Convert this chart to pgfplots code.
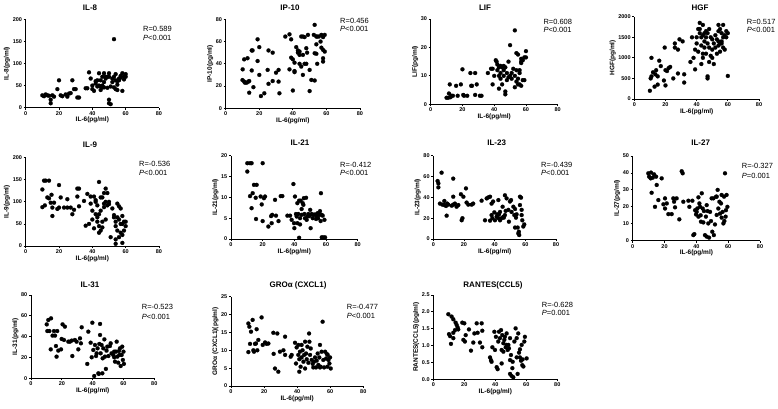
\documentclass[border=0pt]{standalone}
\usepackage{fontspec}
\setmainfont{Liberation Sans}
\usepackage{pgfplots}
\pgfplotsset{compat=1.18}
\pgfplotsset{
  prism/.style={
    scale only axis, axis lines=left,
    axis line style={line width=0.8pt,-},
    every tick/.style={line width=0.8pt,black},
    tick align=outside, major tick length=2pt,
    xmin=0, xmax=80, xtick={0,20,40,60,80},
    /pgf/number format/assume math mode=true,
    /pgf/number format/1000 sep={},
    tick label style={font=\fontsize{5.5}{6}\selectfont\bfseries},
    xticklabel style={inner sep=1.5pt},
    yticklabel style={inner sep=1.5pt},
    label style={font=\fontsize{6.5}{7.5}\selectfont\bfseries},
    xlabel={IL-6(pg/ml)},
    xlabel style={inner sep=1pt, yshift=1pt},
    ylabel style={inner sep=1pt},
    clip=false,
  },
  dot/.style={only marks, mark=*, mark size=2pt, draw=black, fill=black, mark options={solid, fill=black, draw=black, line width=0.2pt}},
}
\newcommand\ttl[3]{\node[font=\fontsize{8}{9}\selectfont\bfseries] at (#1pt,#2pt) {#3};}
\newcommand\rp[5]{%
  \node[anchor=west, inner sep=0pt, font=\fontsize{7.5}{8}\selectfont] at (#1pt,#2pt) {R=#4};
  \node[anchor=west, inner sep=0pt, font=\fontsize{7.5}{8}\selectfont] at (#1pt,#3pt) {\textit{P}#5};}
\begin{document}
\begin{tikzpicture}
\useasboundingbox (0pt,0pt) rectangle (778pt,408pt);
% ---------------- IL-8
\begin{axis}[prism, at={(25.7pt,300.3pt)}, anchor=south west, width=133.3pt, height=88.4pt,
  ymin=0, ymax=200, ytick={0,50,100,150,200}, ylabel={IL-8(pg/ml)}]
\addplot[dot] coordinates {(10,28)(11,26)(12,30)(13,28)(14,27)(15,18)(15,10)(16,28)(17,25)(19,42)(20,62)(21,28)(22,26)(24,30)(25,25)(26,32)(27,33)(28,62)(29,42)(30,42)(31,23)(32,23)(36,44)(38,80)(39,66)(40,42)(40,50)(41,38)(42,60)(42,55)(43,62)(44,78)(44,50)(45,48)(45,62)(46,46)(46,70)(47,78)(47,46)(48,66)(48,70)(49,45)(50,78)(50,18)(50,10)(50,70)(51,8)(51,48)(52,66)(52,58)(53,70)(53,155)(54,76)(54,42)(55,60)(55,40)(55,52)(56,62)(56,66)(57,68)(57,72)(58,38)(58,78)(59,70)(59,64)(60,70)(60,76)(37,44)(43,48)(47,58)(45,40)(49,70)(46,50)(53,46)(54,62)};
\end{axis}
\ttl{90}{400.7}{IL-8}
\rp{143}{378.7}{369.7}{0.589}{<0.001}
% ---------------- IP-10
\begin{axis}[prism, at={(225.7pt,299.7pt)}, anchor=south west, width=134.3pt, height=89pt,
  ymin=0, ymax=80, ytick={0,20,40,60,80}, ylabel={IP-10(pg/ml)}]
\addplot[dot] coordinates {(10.1,35)(10,25.4)(11,24)(11.5,23)(11,44)(13,45)(12.5,23)(13.5,24)(14,24.5)(14,14)(15.5,52)(16,52)(15.5,34)(16.5,19)(19,62)(20,55)(19,42.5)(20,30)(21,11)(23,13.5)(25,34.5)(25.5,22)(25.5,52)(28,50)(28,24.5)(30,32)(31.5,34.5)(31.5,24)(32,13.5)(35.5,64.5)(38,66.5)(39,62)(38,35)(39,45.5)(40,44)(40,16)(41,41)(41,32.5)(41,33.5)(42,55)(43,52)(43,50)(44,51)(44,48)(44,40)(45,64.5)(45,37.5)(46,64.5)(46,48)(46,30)(47,64)(47,40)(48,54)(48,40)(48.5,50)(49,66)(50,15.5)(50,34.5)(51,25.5)(53,25)(52.5,66)(53,75)(53,49.5)(54,64.5)(54,57.5)(54,49)(54.5,64.5)(54.5,40)(55.5,64.5)(56.5,60)(57,66)(57,54.5)(58,52.5)(58,45)(58,42)(58,64)(59,66)(59,51)};
\end{axis}
\ttl{290}{400.7}{IP-10}
\rp{340}{387.3}{378.7}{0.456}{<0.001}
% ---------------- LIF
\begin{axis}[prism, at={(430.7pt,303.7pt)}, anchor=south west, width=127pt, height=85.3pt,
  ymin=0, ymax=30, ytick={0,10,20,30}, ylabel={LIF(pg/ml)}]
\addplot[dot] coordinates {(10,2.3)(11,2.3)(11.5,3.8)(12,7)(12.5,2.5)(13,3)(14,3)(16,6.5)(17,3)(19,7)(20,12.3)(20.5,3.3)(21,3)(23,3)(25,11)(25.5,6.5)(26,6.5)(28,11)(28,3.3)(29,7)(31,3)(32,3)(36,11)(38,12.5)(39,7)(39,12.5)(40,10)(41,15.5)(41.5,15)(42,14)(42,12)(43,13)(43,10)(43,5.5)(44,13.5)(44,11)(44,9)(45,13)(45,7)(46,12)(46,10)(46,13.5)(47,4.5)(47,3.5)(47,13)(48,11)(48,8.5)(49,15)(49,9.5)(50,20.8)(50,10)(51,11)(51,9)(52,12.5)(53,26)(53,6)(53,10)(54,18)(54,12)(54,8)(55,17.5)(55,9)(55,7)(56,11)(56,7)(57,16)(57,14.5)(57,6.5)(58,15.5)(58,8.5)(59,16.5)(59,8.5)(60,18.7)(60,16.5)(56,12)(57,15)};
\end{axis}
\ttl{485}{400.7}{LIF}
\rp{543.3}{386.3}{378}{0.608}{<0.001}
% ---------------- HGF
\begin{axis}[prism, at={(634.3pt,309pt)}, anchor=south west, width=124.7pt, height=82.3pt,
  ymin=0, ymax=2000, ytick={0,500,1000,1500,2000}, ylabel={HGF(pg/ml)}]
\addplot[dot] coordinates {(10,200)(10.5,500)(11,550)(11,1000)(12,650)(13,300)(13.5,600)(14,700)(15,550)(15,350)(16,930)(17,800)(19,450)(19.5,1250)(20,330)(20,700)(21,680)(22,750)(23,780)(25,500)(26,1250)(26,1350)(28,620)(28,1200)(29,1450)(31,1400)(32,600)(32,400)(36,900)(37,1500)(38,1000)(39,720)(39,1200)(40,1350)(40,1500)(41,1700)(41,1150)(42,1600)(42,1700)(42,1850)(43,850)(43,1500)(43,1300)(44,1800)(44,1550)(44,1100)(44,1000)(45,1600)(45,1400)(45,1250)(46,1500)(46,1650)(46,1100)(47,550)(47,500)(47,1600)(47,1350)(48,1700)(48,1250)(48,900)(49,1500)(49,1050)(50,1450)(50,1200)(50,1000)(51,1350)(51,850)(52,1550)(52,1250)(53,1450)(53,1100)(54,1800)(54,1650)(54,1400)(55,1700)(55,1350)(55,1150)(56,1600)(56,1400)(57,1800)(57,1500)(57,1250)(58,1550)(58,1200)(59,1650)(59,1500)(60,1600)(60,560)(56,1350)(54,1300)};
\end{axis}
\ttl{700}{400.7}{HGF}
\rp{746.7}{386.3}{378}{0.517}{<0.001}
% ---------------- IL-9
\begin{axis}[prism, at={(25.7pt,162pt)}, anchor=south west, width=133.3pt, height=88.3pt,
  ymin=0, ymax=200, ytick={0,50,100,150,200}, ylabel={IL-9(pg/ml)}]
\addplot[dot] coordinates {(10,128)(10,88)(11,148)(11.5,92)(12,148)(13,110)(14,148)(14,108)(15,98)(15.5,116)(16,87)(16,68)(17,98)(19,84)(20,138)(20,87)(21,110)(23,87)(25,106)(25,87)(27,87)(28,72)(29,82)(31,130)(31,112)(32,130)(32,90)(35,102)(36,46)(37,118)(38,50)(39,112)(39,96)(40,80)(40,60)(41,40)(41,112)(42,104)(42,72)(42,100)(43,65)(43,92)(43,55)(44,145)(44,72)(44,45)(44,30)(45,35)(45,80)(45,110)(46,110)(46,55)(46,42)(47,120)(47,96)(47,88)(48,130)(48,100)(48,60)(49,120)(49,92)(50,95)(50,100)(51,20)(52,85)(53,65)(53,70)(54,55)(54,45)(54,15)(54,5)(55,96)(55,65)(55,35)(56,90)(56,60)(57,85)(57,30)(57,50)(58,68)(58,50)(58,25)(58,7)(59,55)(59,35)(60,55)(60,45)(56,20)};
\end{axis}
\ttl{90}{263}{IL-9}
\rp{139}{243.7}{234.7}{-0.536}{<0.001}
% ---------------- IL-21
\begin{axis}[prism, at={(231pt,169pt)}, anchor=south west, width=126.7pt, height=83.3pt,
  ymin=0, ymax=20, ytick={0,5,10,15,20}, ylabel={IL-21(pg/ml)}]
\addplot[dot] coordinates {(10.3,18.2)(12,18.2)(13,18.2)(10.3,16.2)(12,10.3)(13,7.4)(13.7,11)(14.5,13)(16.2,13)(15.6,9.9)(15.8,4.8)(18.7,10.2)(19.4,8.3)(20,18.2)(20,4.3)(20.8,9.8)(21.5,10.2)(23.6,3)(25.3,5.5)(26,5.8)(25.7,3.8)(27.8,9.4)(28.4,5.6)(30,4.3)(31.4,10.3)(32.4,10.3)(35.6,5.6)(37.3,5.6)(38.3,4.6)(39.4,13.2)(39.8,3.8)(40,2.6)(40.4,10.2)(41,6)(41.5,5.4)(41.9,8.6)(41.9,3.8)(42.5,6)(43,9.2)(43,0.3)(43.6,3.5)(43.6,5)(44,9.2)(44.6,7.2)(44.6,5.8)(45.3,8.6)(45.7,8.2)(46,9.8)(46.3,6)(46.7,5)(47.4,9.9)(47.8,4.6)(48.2,5.4)(48.8,6)(49.5,5.5)(50,7)(50.3,2.6)(51,6)(51.6,5)(52,5.8)(53,5.9)(53.7,4.8)(54,5.5)(54.7,6.2)(55,5)(55.8,5.8)(56.2,6.7)(56.6,4.3)(56.8,11)(57.3,5.8)(57.3,0.4)(57.9,5.6)(58.3,0.4)(59,4.6)(59.4,0.4)};
\end{axis}
\ttl{300}{265}{IL-21}
\rp{340}{243}{234.7}{-0.412}{<0.001}
% ---------------- IL-23
\begin{axis}[prism, at={(433.3pt,169pt)}, anchor=south west, width=122.7pt, height=83.3pt,
  ymin=0, ymax=80, ytick={0,20,40,60,80}, ylabel={IL-23(pg/ml)}]
\addplot[dot] coordinates {(2.8,55.7)(3.3,53.4)(3.3,49.6)(5.4,63.7)(4.3,34)(5.9,33)(7.2,36.5)(7.2,32.6)(8.3,31.7)(9.1,34)(8.7,22.4)(9.8,33)(12,32)(13,58)(13,40.6)(13,33)(14.1,34)(15.2,31)(16.3,32.6)(18,43)(18.5,18)(19,20)(19.6,40.6)(21.3,48.6)(21.7,35)(22.8,33)(25,33)(26,34)(31.5,36.8)(33.7,18)(34.8,39)(35.9,40)(37,40.6)(37,17.6)(38,34)(38,23)(38.5,20)(39,36)(39.8,25.6)(40.2,18)(41.3,21.4)(41.7,23.7)(42.4,37.4)(42.4,20)(42.8,23.7)(43.5,26)(43.5,18)(44.6,20)(45.2,31)(45.7,21.4)(46,20.5)(46.7,42)(46.7,23)(47.2,27)(47.8,39)(48.9,28)(49.3,16.6)(50,36)(50.7,37.4)(51,26)(52.2,31)(52.8,23)(53.3,28.8)(53.3,11)(53.9,20.5)(54.3,23.7)(55,11)(55.4,5.4)(56,3.8)(56.5,40.6)(56.5,32.6)(57.2,39.7)(57.6,23)(57.6,28)(58,18)(58.7,12)(59.3,14)(55.8,7)};
\end{axis}
\ttl{496.7}{265}{IL-23}
\rp{541}{243}{234.7}{-0.439}{<0.001}
% ---------------- IL-27
\begin{axis}[prism, at={(632.7pt,167.3pt)}, anchor=south west, width=127.3pt, height=84.7pt,
  ymin=0, ymax=50, ytick={0,10,20,30,40,50}, ylabel={IL-27(pg/ml)}]
\addplot[dot] coordinates {(9.8,39.8)(10.3,37.8)(11.3,36.8)(11.5,40.2)(11.9,28.3)(12.6,37.2)(13.4,39.2)(14,20)(14.7,37.8)(15.1,32.9)(16.1,24)(18.2,36.8)(19.3,21.5)(20.3,25)(20.3,19)(21.4,22)(22.4,15.7)(24.5,15.7)(25.5,25)(26,23)(26.6,19.7)(27.6,25)(29.3,12.6)(30.8,41)(31.4,39.8)(31.8,23)(35,23.6)(35.6,20)(37.5,23.6)(38.1,3.3)(38.7,3.9)(39.2,18)(39.8,15.5)(40.2,17)(40.6,19)(41.3,14.2)(41.3,25.6)(41.9,22)(42.3,20)(42.7,15)(42.9,11.2)(43.4,28)(44,19)(44.4,10.8)(44.8,17.5)(45.4,3.3)(46,14.2)(46.5,21)(46.5,2.4)(47.1,17.5)(47.5,10.2)(48,1.8)(48.6,17)(49.2,11.6)(49.6,25)(50,5.3)(50.7,25)(51,3.3)(51.7,9.6)(52.4,26)(52.8,15.2)(53.4,30)(53.8,19)(54.5,23)(54.9,16)(55.5,22)(55.9,13.6)(56.5,17)(57,10.2)(57.4,26)(57.6,11.6)(58,39.8)(58.4,14.2)(58.6,18)(59,27)(59.5,20)(52.8,26)(55.9,27)};
\end{axis}
\ttl{700.7}{265}{IL-27}
\rp{741.7}{242}{232}{-0.327}{=0.001}
% ---------------- IL-31
\begin{axis}[prism, at={(31pt,29.7pt)}, anchor=south west, width=123.3pt, height=83.3pt,
  ymin=0, ymax=80, ytick={0,20,40,60,80}, ylabel={IL-31(pg/ml)}]
\addplot[dot] coordinates {(10.2,51.8)(10.6,45.4)(11.2,56)(11.9,45.4)(13,57.6)(12.8,27.8)(14,41)(14.9,45.4)(15.6,41)(16.2,31)(16.6,20.8)(17,45.4)(17.7,26.6)(19.5,27.8)(19.9,37.8)(20.5,51.8)(21.4,36.8)(22,49.6)(24.2,35.2)(25.3,35.2)(26.4,36.2)(26.8,21.4)(28.5,36.8)(29.6,35.2)(30.7,27.8)(31.8,38.4)(32.4,33.6)(32.9,49)(36.5,13.8)(37.2,44.8)(38.7,34.2)(39.4,20.2)(39.8,53.4)(40.4,27.2)(41,2.2)(41.5,32)(42.2,21.4)(42.6,24)(43.2,28.8)(43.7,4.8)(44,4.2)(44.3,33)(44.8,52.2)(44.8,41.6)(45.2,24)(45.8,32)(46.3,4.8)(46.5,19.2)(46.9,28.8)(47.6,37.4)(48,20.8)(48.6,9)(49,26.6)(49.5,30.4)(50.2,21.4)(51.2,31)(51.7,33.6)(52.3,24)(53.4,22.4)(54,25.6)(54.5,16)(55.1,25.6)(55.6,35.2)(56,20.8)(56.6,15)(57.1,26.2)(57.3,22.4)(57.7,28.8)(58.2,11.8)(58.8,22.4)(59.2,30.4)(59.6,17.6)(60,25.6)(60.3,13.8)(54,20.2)};
\end{axis}
\ttl{90}{123}{IL-31}
\rp{141.7}{100.7}{91.3}{-0.523}{<0.001}
% ---------------- GRO alpha
\begin{axis}[prism, at={(231pt,22pt)}, anchor=south west, width=132.3pt, height=89.3pt,
  ymin=0, ymax=25, ytick={0,5,10,15,20,25}, ylabel={GROα (CXCL1)(pg/ml)}]
\addplot[dot] coordinates {(10.5,17.5)(11.1,16.6)(10.5,9.5)(11.5,11.8)(12.1,15.2)(13.1,18.5)(13.5,10)(13.9,9.6)(14.5,11.8)(15.1,11.9)(15.5,15.9)(15.9,10)(16.5,12.9)(18.5,19.2)(19.2,11.5)(20.6,12.2)(21.6,11.8)(22.6,11.9)(25.6,14.9)(25.8,9)(26.6,4.9)(28,14.7)(28.6,4)(29.6,9.6)(31.7,10)(32.7,13.8)(32.7,8.7)(36.1,8.2)(36.7,8.7)(38.7,12.1)(39.3,6.3)(39.7,10.8)(40.7,11.5)(40.7,8.7)(41.3,4)(41.3,7.5)(41.7,9.6)(42.1,5.4)(42.7,11.5)(42.7,8)(43.3,10)(43.8,6.8)(44.2,8.7)(44.8,12.4)(44.8,4.9)(45.4,9.1)(45.8,7.5)(46.2,11)(46.8,6.5)(47.2,14.7)(47.4,12.4)(47.8,8.7)(48.2,10.5)(48.8,7.3)(49.4,6.2)(49.8,5.2)(50.2,6.8)(50.8,8)(51.4,5.2)(51.8,7.1)(52.4,9.1)(52.8,5.9)(53.4,8)(53.8,11.5)(54.2,5.4)(54.8,9.6)(55.4,18)(55.8,7.3)(56.3,5.2)(56.9,9.6)(57.5,7.7)(57.9,9)(58.3,5.4)(58.9,7.3)(59.5,6.3)(59.9,8)(60.3,4.9)(58.5,8.7)(53.8,5.2)};
\end{axis}
\ttl{298}{123}{GROα (CXCL1)}
\rp{346.7}{101.3}{92.3}{-0.477}{<0.001}
% ---------------- RANTES
\begin{axis}[prism, at={(433.3pt,28.7pt)}, anchor=south west, width=124pt, height=84.3pt,
  ymin=0, ymax=2.5, ytick={0,0.5,1,1.5,2,2.5}, ylabel={RANTES(CCL5)(pg/ml)},
  yticklabel style={/pgf/number format/fixed, /pgf/number format/fixed zerofill, /pgf/number format/precision=1}]
\addplot[dot] coordinates {(9.7,1.93)(10.1,1.34)(10.8,1.28)(11.4,1.05)(11.8,1.86)(12.9,1.78)(12.9,1.38)(12.9,1.22)(14,1.46)(14.4,1.68)(15.1,1.61)(15.7,1.54)(16.1,1.48)(18.7,1.68)(19.4,1.17)(20,1.66)(20.4,1.12)(20.9,1.31)(23,1.48)(24.3,0.85)(25.8,1.09)(26.5,1.36)(28,1.66)(28.6,1.38)(30.1,1.09)(31.2,1.66)(31.6,1.44)(31.6,0.95)(36.6,0.65)(37.2,0.57)(37.6,0.52)(38.1,0.95)(39.4,1.41)(39.8,0.87)(40.4,1.26)(40.9,0.36)(41.5,0.3)(41.9,1.12)(42.4,1.41)(43,1.22)(43.7,1.46)(44.1,0.87)(44.1,0.47)(44.5,1.31)(45.2,1.07)(45.2,0.82)(45.8,1.17)(46.2,1.26)(46.7,0.95)(47.3,1.36)(48,0.87)(48.4,1.02)(48.8,0.92)(49.5,0.16)(49.5,0.57)(50.1,0.72)(50.5,0.1)(51,0.33)(51.2,0.52)(51.6,0.06)(52.3,1.12)(53.1,1.51)(53.8,0.65)(54.4,0.16)(54.8,1.36)(55.3,0.79)(55.9,0.65)(56.6,0.55)(57,1.02)(57.4,0.42)(57.6,0.59)(58.1,0.38)(58.7,1.12)(59.1,1.26)(60.2,0.62)(55.9,0.89)(53.8,1.22)(49.5,1.22)(47.3,1.02)};
\end{axis}
\ttl{493}{123}{RANTES(CCL5)}
\rp{541.7}{103}{94.7}{-0.628}{=0.001}
\end{tikzpicture}
\end{document}
